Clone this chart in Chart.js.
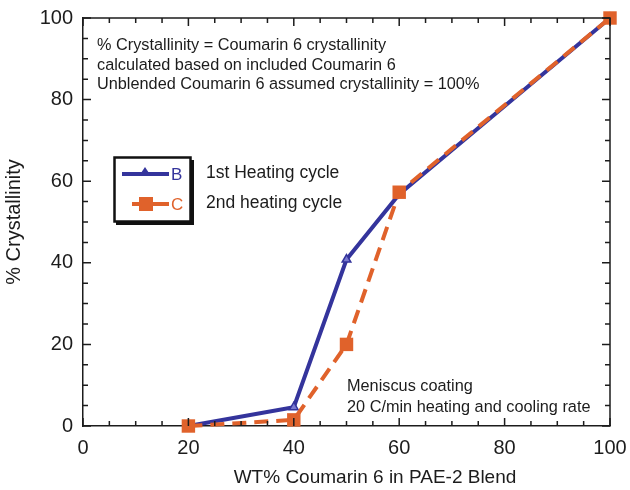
<!DOCTYPE html>
<html>
<head>
<meta charset="utf-8">
<script src="https://cdn.jsdelivr.net/npm/chart.js@4.4.0/dist/chart.umd.min.js"></script>
<style>
    html, body { margin: 0; padding: 0; background: #fff; }
    #wrap { width: 630px; height: 490px; }
</style>
</head>
<body>
<div id="wrap"><canvas id="crystChart" width="630" height="490"></canvas></div>
<script>
// blend composition (wt% Coumarin 6)
const wtPercent = [20, 40, 50, 60, 100];
// 1st heating cycle (B) and 2nd heating cycle (C)
const firstHeating = [0, 4.6, 40.8, 56.8, 100];
const secondHeating = [0, 1.5, 20, 57.3, 100];

const xTicks = [0, 20, 40, 60, 80, 100];
const yTicks = [0, 20, 40, 60, 80, 100];

const xTitle = 'WT% Coumarin 6 in PAE-2 Blend';
const yTitle = '% Crystallinity';

const noteTop = [
    '% Crystallinity = Coumarin 6 crystallinity',
    'calculated based on included Coumarin 6',
    'Unblended Coumarin 6 assumed crystallinity = 100%'
];
const noteBottom = [
    'Meniscus coating',
    '20 C/min heating and cooling rate'
];

const BLUE = '#34349c';
const ORANGE = '#e0622b';
const INK = '#1c1c1c';
const FONT = '"Liberation Sans", Arial, sans-serif';

// frame, inward ticks, axis titles, legend box and notes
const decorations = {
    id: 'decorations',
    afterDraw(chart) {
        const { ctx, chartArea: a, scales: { x, y } } = chart;
        ctx.save();
        ctx.strokeStyle = INK;
        ctx.lineWidth = 1.5;
        ctx.beginPath();
        ctx.moveTo(a.left, a.top);
        ctx.lineTo(a.right, a.top);
        ctx.lineTo(a.right, a.bottom);
        ctx.stroke();

        for (let v = 0; v <= 100; v += 5) {
            const len = v % 20 === 0 ? 8 : 5;
            const px = x.getPixelForValue(v);
            const py = y.getPixelForValue(v);
            ctx.beginPath();
            ctx.moveTo(px, a.bottom); ctx.lineTo(px, a.bottom - len);
            ctx.moveTo(px, a.top); ctx.lineTo(px, a.top + len);
            ctx.moveTo(a.left, py); ctx.lineTo(a.left + len, py);
            ctx.moveTo(a.right, py); ctx.lineTo(a.right - len, py);
            ctx.stroke();
        }

        // axis titles
        ctx.fillStyle = INK;
        ctx.font = '19px ' + FONT;
        ctx.textAlign = 'center';
        ctx.textBaseline = 'middle';
        ctx.fillText(xTitle, 375, 478);
        ctx.save();
        ctx.translate(14, 222);
        ctx.rotate(-Math.PI / 2);
        ctx.font = '20px ' + FONT;
        ctx.fillText(yTitle, 0, 0);
        ctx.restore();
        ctx.textAlign = 'left';

        // legend
        ctx.fillStyle = '#111';
        ctx.fillRect(116, 160, 78, 65);
        ctx.fillStyle = '#fff';
        ctx.fillRect(116, 159, 74, 62);
        ctx.strokeStyle = '#111';
        ctx.lineWidth = 2.5;
        ctx.strokeRect(114.5, 157.5, 76, 64);

        ctx.lineWidth = 4;
        ctx.strokeStyle = BLUE;
        ctx.beginPath(); ctx.moveTo(122, 174); ctx.lineTo(169, 174); ctx.stroke();
        ctx.fillStyle = BLUE;
        ctx.beginPath(); ctx.moveTo(145, 167); ctx.lineTo(151, 176); ctx.lineTo(139, 176); ctx.closePath(); ctx.fill();
        ctx.strokeStyle = ORANGE;
        ctx.beginPath(); ctx.moveTo(132, 204); ctx.lineTo(169, 204); ctx.stroke();
        ctx.fillStyle = ORANGE;
        ctx.fillRect(139, 197, 14, 14);

        ctx.font = '17px ' + FONT;
        ctx.fillStyle = BLUE;
        ctx.fillText('B', 171, 175);
        ctx.fillStyle = ORANGE;
        ctx.fillText('C', 171, 205);
        ctx.fillStyle = INK;
        ctx.font = '17.5px ' + FONT;
        ctx.fillText('1st Heating cycle', 206, 173);
        ctx.fillText('2nd heating cycle', 206, 203);

        ctx.font = '16.3px ' + FONT;
        noteTop.forEach((t, i) => ctx.fillText(t, 97, 46 + i * 19.5));
        noteBottom.forEach((t, i) => ctx.fillText(t, 347, 387 + i * 20.5));
        ctx.restore();
    }
};

new Chart(document.getElementById('crystChart'), {
    type: 'line',
    data: {
        labels: wtPercent,
        datasets: [{
            label: 'C',
            data: wtPercent.map((w, i) => ({ x: w, y: secondHeating[i] })),
            borderColor: ORANGE,
            backgroundColor: ORANGE,
            borderWidth: 4,
            borderDash: [14, 8],
            pointStyle: 'rect',
            pointRadius: 9.5,
            pointBorderWidth: 0,
            order: 0
        }, {
            label: 'B',
            data: wtPercent.map((w, i) => ({ x: w, y: firstHeating[i] })),
            borderColor: BLUE,
            backgroundColor: '#7a7ad0',
            borderWidth: 4,
            pointStyle: 'triangle',
            pointRadius: 5,
            pointBorderWidth: 1.5,
            order: 1
        }]
    },
    options: {
        responsive: false,
        animation: false,
        clip: false,
        layout: { padding: { top: 18, right: 20, left: 0, bottom: 0 } },
        plugins: { legend: { display: false }, tooltip: { enabled: false } },
        scales: {
            x: {
                type: 'linear',
                min: 0, max: 100,
                afterBuildTicks: s => { s.ticks = xTicks.map(v => ({ value: v })); },
                afterFit: s => { s.height = 64; s.paddingLeft = 0; s.paddingRight = 0; },
                grid: { display: false, drawTicks: false, tickLength: 0 },
                border: { color: INK, width: 1.5 },
                ticks: { font: { family: FONT, size: 20 }, color: INK, padding: 10 }
            },
            y: {
                min: 0, max: 100,
                afterBuildTicks: s => { s.ticks = yTicks.map(v => ({ value: v })); },
                afterFit: s => { s.width = 83; s.paddingTop = 0; s.paddingBottom = 0; },
                grid: { display: false, drawTicks: false, tickLength: 0 },
                border: { color: INK, width: 1.5 },
                ticks: { font: { family: FONT, size: 20 }, color: INK, padding: 10 }
            }
        }
    },
    plugins: [decorations]
});
</script>
</body>
</html>
